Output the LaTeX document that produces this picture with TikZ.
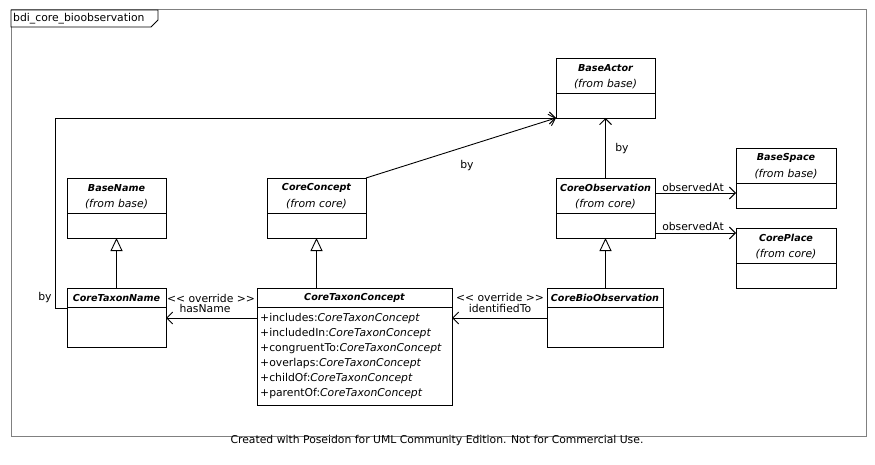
\documentclass[tikz,border=0pt]{standalone}
\usepackage{fontspec}
\setmainfont{DejaVu Sans}
\usetikzlibrary{arrows.meta}
\definecolor{framegray}{RGB}{128,128,128}
\newcommand{\fs}{\fontsize{10.8}{12}\selectfont}
\newcommand{\ft}{\fontsize{9.6}{11}\selectfont}
\begin{document}
\begin{tikzpicture}[x=1pt,y=-1pt,
  cls/.style={draw, line width=0.9pt, inner sep=0pt, outer sep=0pt, anchor=north west},
  ttl/.style={font=\ft\bfseries\itshape, inner sep=0pt},
  frm/.style={font=\fs\itshape, inner sep=0pt},
  lbl/.style={font=\fs, inner sep=0pt},
  attr/.style={font=\fs, inner sep=0pt, anchor=west},
  sep/.style={line width=0.9pt},
  gen/.style={line width=0.9pt, -{Triangle[open, length=13pt, width=12pt, line width=0.9pt]}},
  nav/.style={line width=0.9pt, -{Straight Barb[length=6pt, width=12pt, line width=0.9pt]}}
]
\useasboundingbox (0,0) rectangle (875,465);
\fill[white] (0,0) rectangle (875,465);
% frame
\draw[framegray, line width=1pt] (11,10) rectangle (866,436);
\draw[line width=0.9pt, fill=white] (11,10) -- (158,10) -- (158,20) -- (151,27) -- (11,27) -- cycle;
\node[lbl, anchor=west] (tab) at (13,18.5) {bdi\_core\_bioobservation};
\node[lbl] (footer) at (437,441) {Created with Poseidon for UML Community Edition. Not for Commercial Use.};

% BaseActor
\node[cls, minimum width=99pt, minimum height=60pt] (ba) at (556,58) {};
\draw[sep] (556,93) -- (655,93);
\node[ttl] (baT) at (605.5,68) {BaseActor};
\node[frm] (baF) at (605.5,84) {(from base)};

% BaseName
\node[cls, minimum width=99pt, minimum height=60pt] (bn) at (67,178) {};
\draw[sep] (67,213) -- (166,213);
\node[ttl] (bnT) at (116.5,188) {BaseName};
\node[frm] (bnF) at (116.5,204) {(from base)};

% CoreConcept
\node[cls, minimum width=99pt, minimum height=60pt] (cc) at (267,178) {};
\draw[sep] (267,213) -- (366,213);
\node[ttl] (ccT) at (316.5,188) {CoreConcept};
\node[frm] (ccF) at (316.5,204) {(from core)};

% CoreObservation
\node[cls, minimum width=99pt, minimum height=60pt] (co) at (556,178) {};
\draw[sep] (556,213) -- (655,213);
\node[ttl] (coT) at (605.5,188) {CoreObservation};
\node[frm] (coF) at (605.5,204) {(from core)};

% BaseSpace
\node[cls, minimum width=100pt, minimum height=60pt] (bs) at (736,148) {};
\draw[sep] (736,183) -- (836,183);
\node[ttl] (bsT) at (786,158) {BaseSpace};
\node[frm] (bsF) at (786,174) {(from base)};

% CorePlace
\node[cls, minimum width=100pt, minimum height=60pt] (cp) at (736,228) {};
\draw[sep] (736,263) -- (836,263);
\node[ttl] (cpT) at (786,238) {CorePlace};
\node[frm] (cpF) at (786,254) {(from core)};

% CoreTaxonName
\node[cls, minimum width=99pt, minimum height=59pt] (ctn) at (67,288) {};
\draw[sep] (67,307) -- (166,307);
\node[ttl] (ctnT) at (116.5,298) {CoreTaxonName};

% CoreTaxonConcept
\node[cls, minimum width=195pt, minimum height=117pt] (ctc) at (257,288) {};
\draw[sep] (257,307) -- (452,307);
\node[ttl] (ctcT) at (354.5,298) {CoreTaxonConcept};
\node[attr] (a1) at (260,319) {+includes:\textit{CoreTaxonConcept}};
\node[attr] (a2) at (260,334) {+includedIn:\textit{CoreTaxonConcept}};
\node[attr] (a3) at (260,349) {+congruentTo:\textit{CoreTaxonConcept}};
\node[attr] (a4) at (260,364) {+overlaps:\textit{CoreTaxonConcept}};
\node[attr] (a5) at (260,379) {+childOf:\textit{CoreTaxonConcept}};
\node[attr] (a6) at (260,394) {+parentOf:\textit{CoreTaxonConcept}};

% CoreBioObservation
\node[cls, minimum width=116pt, minimum height=59pt] (cbo) at (547,288) {};
\draw[sep] (547,307) -- (663,307);
\node[ttl] (cboT) at (605,298) {CoreBioObservation};

% generalizations
\draw[gen] (ctn.north) -- (bn.south);
\draw[gen] (ctc.north -| cc.south) -- (cc.south);
\draw[gen] (cbo.north -| co.south) -- (co.south);

% associations
\coordinate (k1) at (55,308);
\coordinate (k2) at (55,118);
\draw[nav] (ctn.west |- k1) -- (k1) -- (k2) -- (ba.south west);
\node[lbl] (by1) at (45,298) {by};
\draw[nav] (cc.north east) -- (ba.south west);
\node[lbl] (by2) at (467,166) {by};
\draw[nav] (co.north) -- (ba.south);
\node[lbl] (by3) at (622,149) {by};

\coordinate (o1) at (655,193);
\coordinate (o2) at (655,233);
\draw[nav] (o1) -- (bs.west |- o1);
\node[lbl] (ob1) at (693,187) {observedAt};
\draw[nav] (o2) -- (cp.west |- o2);
\node[lbl] (ob2) at (693,226) {observedAt};

\coordinate (i1) at (547,318);
\draw[nav] (i1) -- (ctc.east |- i1);
\node[lbl] (ov1) at (500,297) {{<}{<} override {>}{>}};
\node[lbl] (id1) at (500,308) {identifiedTo};

\coordinate (h1) at (257,318);
\draw[nav] (h1) -- (ctn.east |- h1);
\node[lbl] (ov2) at (211,298) {{<}{<} override {>}{>}};
\node[lbl] (hn1) at (205,308) {hasName};
\end{tikzpicture}
\end{document}
